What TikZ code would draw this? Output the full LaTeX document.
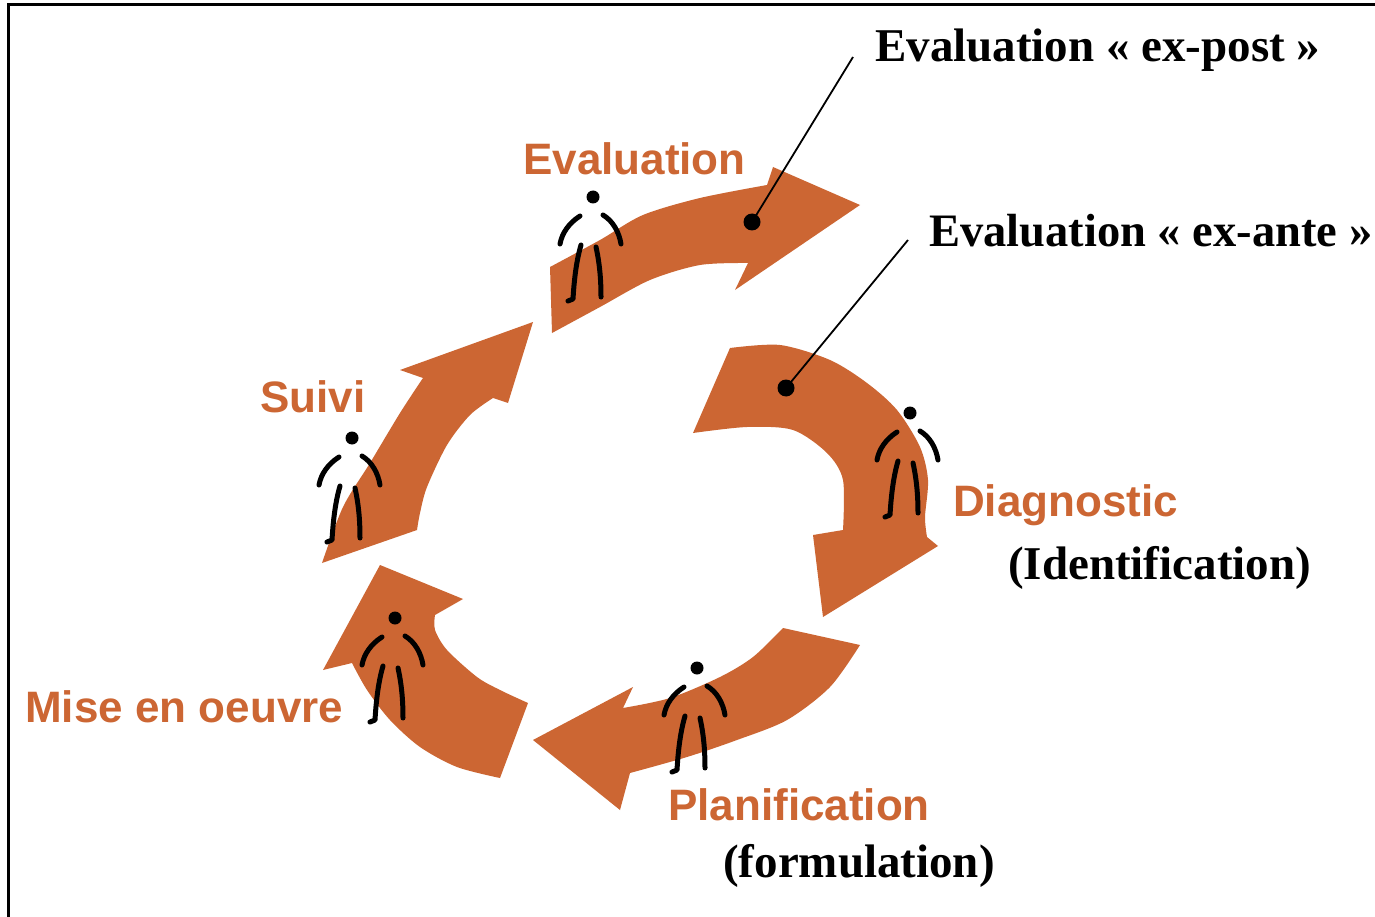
\documentclass[tikz,border=0pt]{standalone}
\usepackage{fontspec}
\setmainfont{Liberation Serif}
\newfontfamily\labfont{Liberation Sans}
\definecolor{cyc}{RGB}{204,102,51}
\tikzset{
  arr/.style={fill=cyc},
  lab/.style={text=cyc, font=\labfont\bfseries\fontsize{44}{50}\selectfont, inner sep=0pt, anchor=base west},
  note/.style={font=\bfseries\fontsize{47}{56}\selectfont, inner sep=0pt, anchor=base west},
  dotnode/.style={circle, fill=black, inner sep=0pt, minimum size=17pt},
  leader/.style={line width=1.8pt},
  limb/.style={line width=5pt, line cap=round, line join=round},
  frame/.style={line width=3pt},
  person/.pic={
    \fill (0,0) circle (6.5);
    \draw[limb] (-13,19) .. controls (-24,26) and (-31,36) .. (-33,47);
    \draw[limb] (10,18) .. controls (20,24) and (26,35) .. (28,47);
    \draw[limb] (-12,48) .. controls (-17,65) and (-19,85) .. (-20,102) -- (-25,104);
    \draw[limb] (3,50) .. controls (7,68) and (8,85) .. (8,100);
  }
}
\begin{document}
\begin{tikzpicture}[x=1pt,y=-1pt]
\useasboundingbox (0,0) rectangle (1375,917);
\fill[white] (0,0) rectangle (1375,917);
% frame (left and top edges)
\draw[frame] (8,917) -- (8,5) -- (1375,5);

% Evaluation arrow
\fill[arr] (552,333) -- (550,267)
  -- plot[smooth] coordinates {(550,267) (600,240) (643,215) (700,198) (767,185)}
  -- (773,167) -- (860,205) -- (735,290) -- (748,263)
  -- plot[smooth] coordinates {(748,263) (700,265) (650,280) (600,307) (552,333)}
  -- cycle;
% Diagnostic arrow
\fill[arr] (693,433) -- (730,348)
  -- plot[smooth] coordinates {(730,348) (780,345) (830,360) (867,383) (897,410) (920,447) (928,480) (925,517) (927,537)}
  -- (938,546) -- (823,617) -- (813,535) -- (843,530)
  -- plot[smooth] coordinates {(843,530) (843,480) (827,453) (793,430) (747,427) (693,433)}
  -- cycle;
% Planification arrow
\fill[arr] (783,628) -- (860,645)
  -- plot[smooth] coordinates {(860,645) (830,687) (787,720) (737,740) (687,757) (630,773)}
  -- (620,810) -- (533,740) -- (633,687) -- (623,708)
  -- plot[smooth] coordinates {(623,708) (670,698) (720,677) (753,657) (783,628)}
  -- cycle;
% Mise en oeuvre arrow
\fill[arr] (528,703) -- (500,778)
  -- plot[smooth] coordinates {(500,778) (457,767) (420,747) (390,720) (367,690) (352,663)}
  -- (323,670) -- (380,565) -- (463,599) -- (435,615)
  -- plot[smooth] coordinates {(435,615) (435,630) (447,650) (477,677) (500,690) (528,703)}
  -- cycle;
% Suivi arrow
\fill[arr] (322,563) -- (417,530)
  -- plot[smooth] coordinates {(417,530) (420,513) (427,487) (447,445) (470,415) (493,398)}
  -- (508,403) -- (533,322) -- (400,370) -- (423,378)
  -- plot[smooth] coordinates {(423,378) (400,413) (370,463) (343,507) (322,563)}
  -- cycle;

% people
\pic at (593,197) {person};
\pic at (910,413) {person};
\pic at (697,668) {person};
\pic at (395,618) {person};
\pic at (352,438) {person};

% orange labels
\node[lab] (lEval) at (523,175) {Evaluation};
\node[lab] (lSuivi) at (260,412) {Suivi};
\node[lab] (lDiag) at (953,516) {Diagnostic};
\node[lab] (lMise) at (25,722) {Mise en oeuvre};
\node[lab] (lPlan) at (668,820) {Planification};

% black notes
\node[note] (nPost) at (875,62) {Evaluation « ex-post »};
\node[note, font=\bfseries\fontsize{46.5}{56}\selectfont] (nAnte) at (929,247) {Evaluation « ex-ante »};
\node[note] (nIdent) at (1008,579) {(Identification)};
\node[note] (nForm) at (723,877) {(formulation)};

% leaders
\coordinate (cPost) at (853,57);
\coordinate (cAnte) at (908,240);
\node[dotnode] (dPost) at (752,222) {};
\node[dotnode] (dAnte) at (786,388) {};
\draw[leader] (cPost) -- (dPost.center);
\draw[leader] (cAnte) -- (dAnte.center);
\end{tikzpicture}
\end{document}
